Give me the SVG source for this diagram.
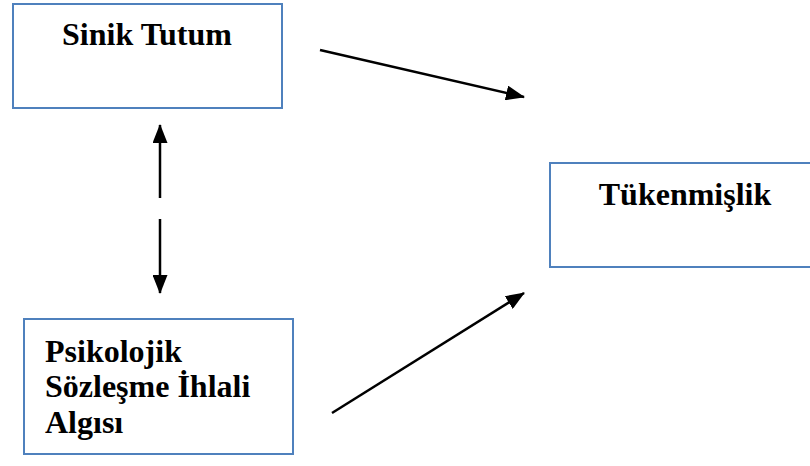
<svg xmlns="http://www.w3.org/2000/svg" width="810" height="466" viewBox="0 0 810 466">
<style>
.box{fill:#fff;stroke:#4F81BD;stroke-width:2}
.lbl{font-family:"Liberation Serif","Times New Roman",serif;font-weight:bold;font-size:32px;fill:#000}
.arr{stroke:#000;stroke-width:2.5;fill:none;marker-end:url(#ah)}
</style>
<defs>
<marker id="ah" markerUnits="userSpaceOnUse" markerWidth="19" markerHeight="15" refX="18" refY="7.5" orient="auto">
<path d="M0,0 L19,7.5 L0,15 Z" fill="#000"/>
</marker>
</defs>
<rect width="810" height="466" fill="#fff"/>
<g id="sinik">
<rect class="box" x="13" y="4" width="269" height="104"/>
<text class="lbl" x="147" y="45" text-anchor="middle">Sinik Tutum</text>
</g>
<g id="tukenmislik">
<rect class="box" x="550" y="163" width="262" height="104"/>
<text class="lbl" x="685" y="205" text-anchor="middle">Tükenmişlik</text>
</g>
<g id="psikolojik">
<rect class="box" x="24" y="319" width="269" height="135"/>
<text class="lbl" x="45" y="362">Psikolojik</text>
<text class="lbl" x="45" y="397">Sözleşme İhlali</text>
<text class="lbl" x="45" y="433">Algısı</text>
</g>
<g id="connectors">
<line class="arr" x1="320" y1="50" x2="524" y2="97"/>
<line class="arr" x1="160" y1="198" x2="160" y2="125"/>
<line class="arr" x1="160" y1="219" x2="160" y2="293"/>
<line class="arr" x1="332" y1="413" x2="524" y2="293"/>
</g>
</svg>
